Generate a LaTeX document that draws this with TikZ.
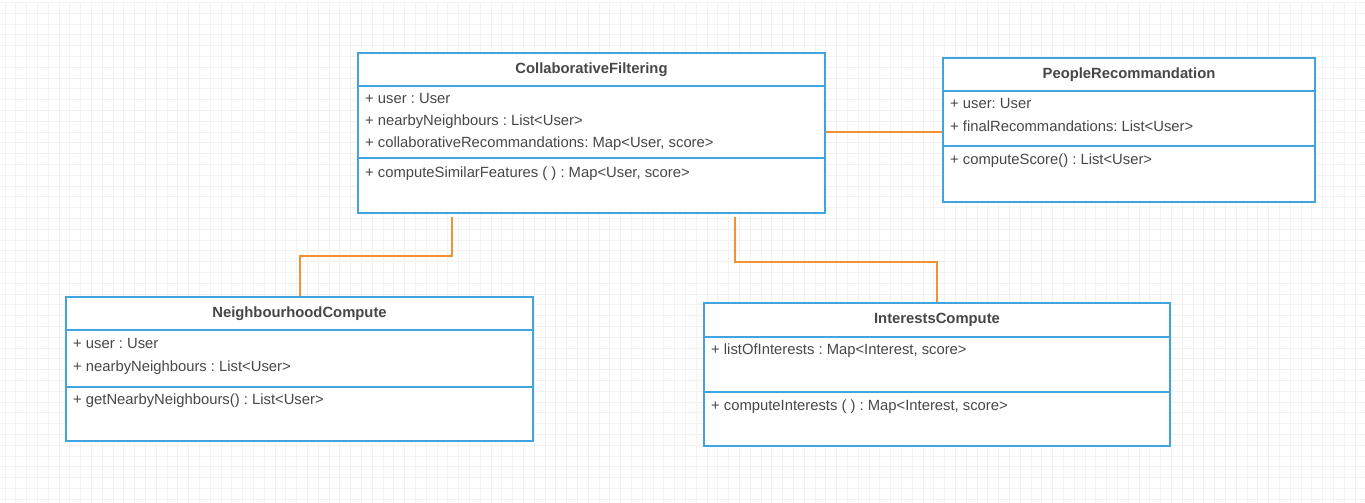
\documentclass[tikz,border=0pt]{standalone}
\usepackage{fontspec}
\setmainfont{Liberation Sans}
\usetikzlibrary{positioning}
\frenchspacing
\definecolor{umlblue}{HTML}{3FA4E0}
\definecolor{linkorange}{HTML}{F29234}
\definecolor{gridgray}{HTML}{F2F2F2}
\definecolor{textgray}{HTML}{474747}
\tikzset{
  part/.style={draw=umlblue, line width=2pt, fill=white, anchor=north west,
    inner sep=0pt, minimum width=#1, text=textgray},
  classname/.style={font=\fontsize{14.8}{17}\selectfont\bfseries},
  member/.style={anchor=west, inner sep=0pt, text=textgray, yshift=-2pt,
    text height=10.5pt, text depth=3pt, font=\fontsize{14.8}{17}\selectfont},
  link/.style={draw=linkorange, line width=2pt}
}
\begin{document}
\begin{tikzpicture}[x=1pt, y=-1pt]
            \useasboundingbox (0,0) rectangle (1365,503);
            \fill[white] (0,0) rectangle (1365,503);
            \draw[gridgray, line width=1pt, step=10.8pt, xshift=5pt, yshift=-2.5pt] (-5,505) grid (1365,0);
            % CollaborativeFiltering
            \node[part=467pt, minimum height=33pt, classname] (cf) at (357,52) {CollaborativeFiltering};
            \node[part=467pt, minimum height=72pt] (cfattr) at (357,85) {};
            \node[part=467pt, minimum height=55pt] (cfmeth) at (357,157) {};
            \node[member] (cfuser) at (365,98) {+ user : User};
            \node[member] (cfnear) at (365,120) {+ nearbyNeighbours : List<User>};
            \node[member] (cfrec) at (365,142) {+ collaborativeRecommandations: Map<User, score>};
            \node[member] (cfcomp) at (365,172) {+ computeSimilarFeatures ( ) : Map<User, score>};
            % PeopleRecommandation
            \node[part=372pt, minimum height=33pt, classname] (pr) at (942,57) {PeopleRecommandation};
            \node[part=372pt, minimum height=55pt] (prattr) at (942,90) {};
            \node[part=372pt, minimum height=56pt] (prmeth) at (942,145) {};
            \node[member] (pruser) at (950,103) {+ user: User};
            \node[member] (prfinal) at (950,126) {+ finalRecommandations: List<User>};
            \node[member] (prscore) at (950,159) {+ computeScore() : List<User>};
            % NeighbourhoodCompute
            \node[part=467pt, minimum height=33pt, classname] (nc) at (65,296) {NeighbourhoodCompute};
            \node[part=467pt, minimum height=57pt] (ncattr) at (65,329) {};
            \node[part=467pt, minimum height=54pt] (ncmeth) at (65,386) {};
            \node[member] (ncuser) at (73,343) {+ user : User};
            \node[member] (ncnear) at (73,366) {+ nearbyNeighbours : List<User>};
            \node[member] (ncget) at (73,399) {+ getNearbyNeighbours() : List<User>};
            % InterestsCompute
            \node[part=466pt, minimum height=34pt, classname] (ic) at (703,302) {InterestsCompute};
            \node[part=466pt, minimum height=55pt] (icattr) at (703,336) {};
            \node[part=466pt, minimum height=54pt] (icmeth) at (703,391) {};
            \node[member] (iclist) at (711,349) {+ listOfInterests : Map<Interest, score>};
            \node[member] (iccomp) at (711,405) {+ computeInterests ( ) : Map<Interest, score>};
            % links
            \draw[link] ([yshift=-10pt]cfattr.east) -- ([yshift=-10pt]cfattr.east -| prattr.west);
            \draw[link] ([shift={(95pt,-3pt)}]cfmeth.south west) -- ++(0,39) -| (nc.north);
            \draw[link] ([shift={(378pt,-3pt)}]cfmeth.south west) -- ++(0,45) -| (ic.north);
          \end{tikzpicture}
\end{document}
